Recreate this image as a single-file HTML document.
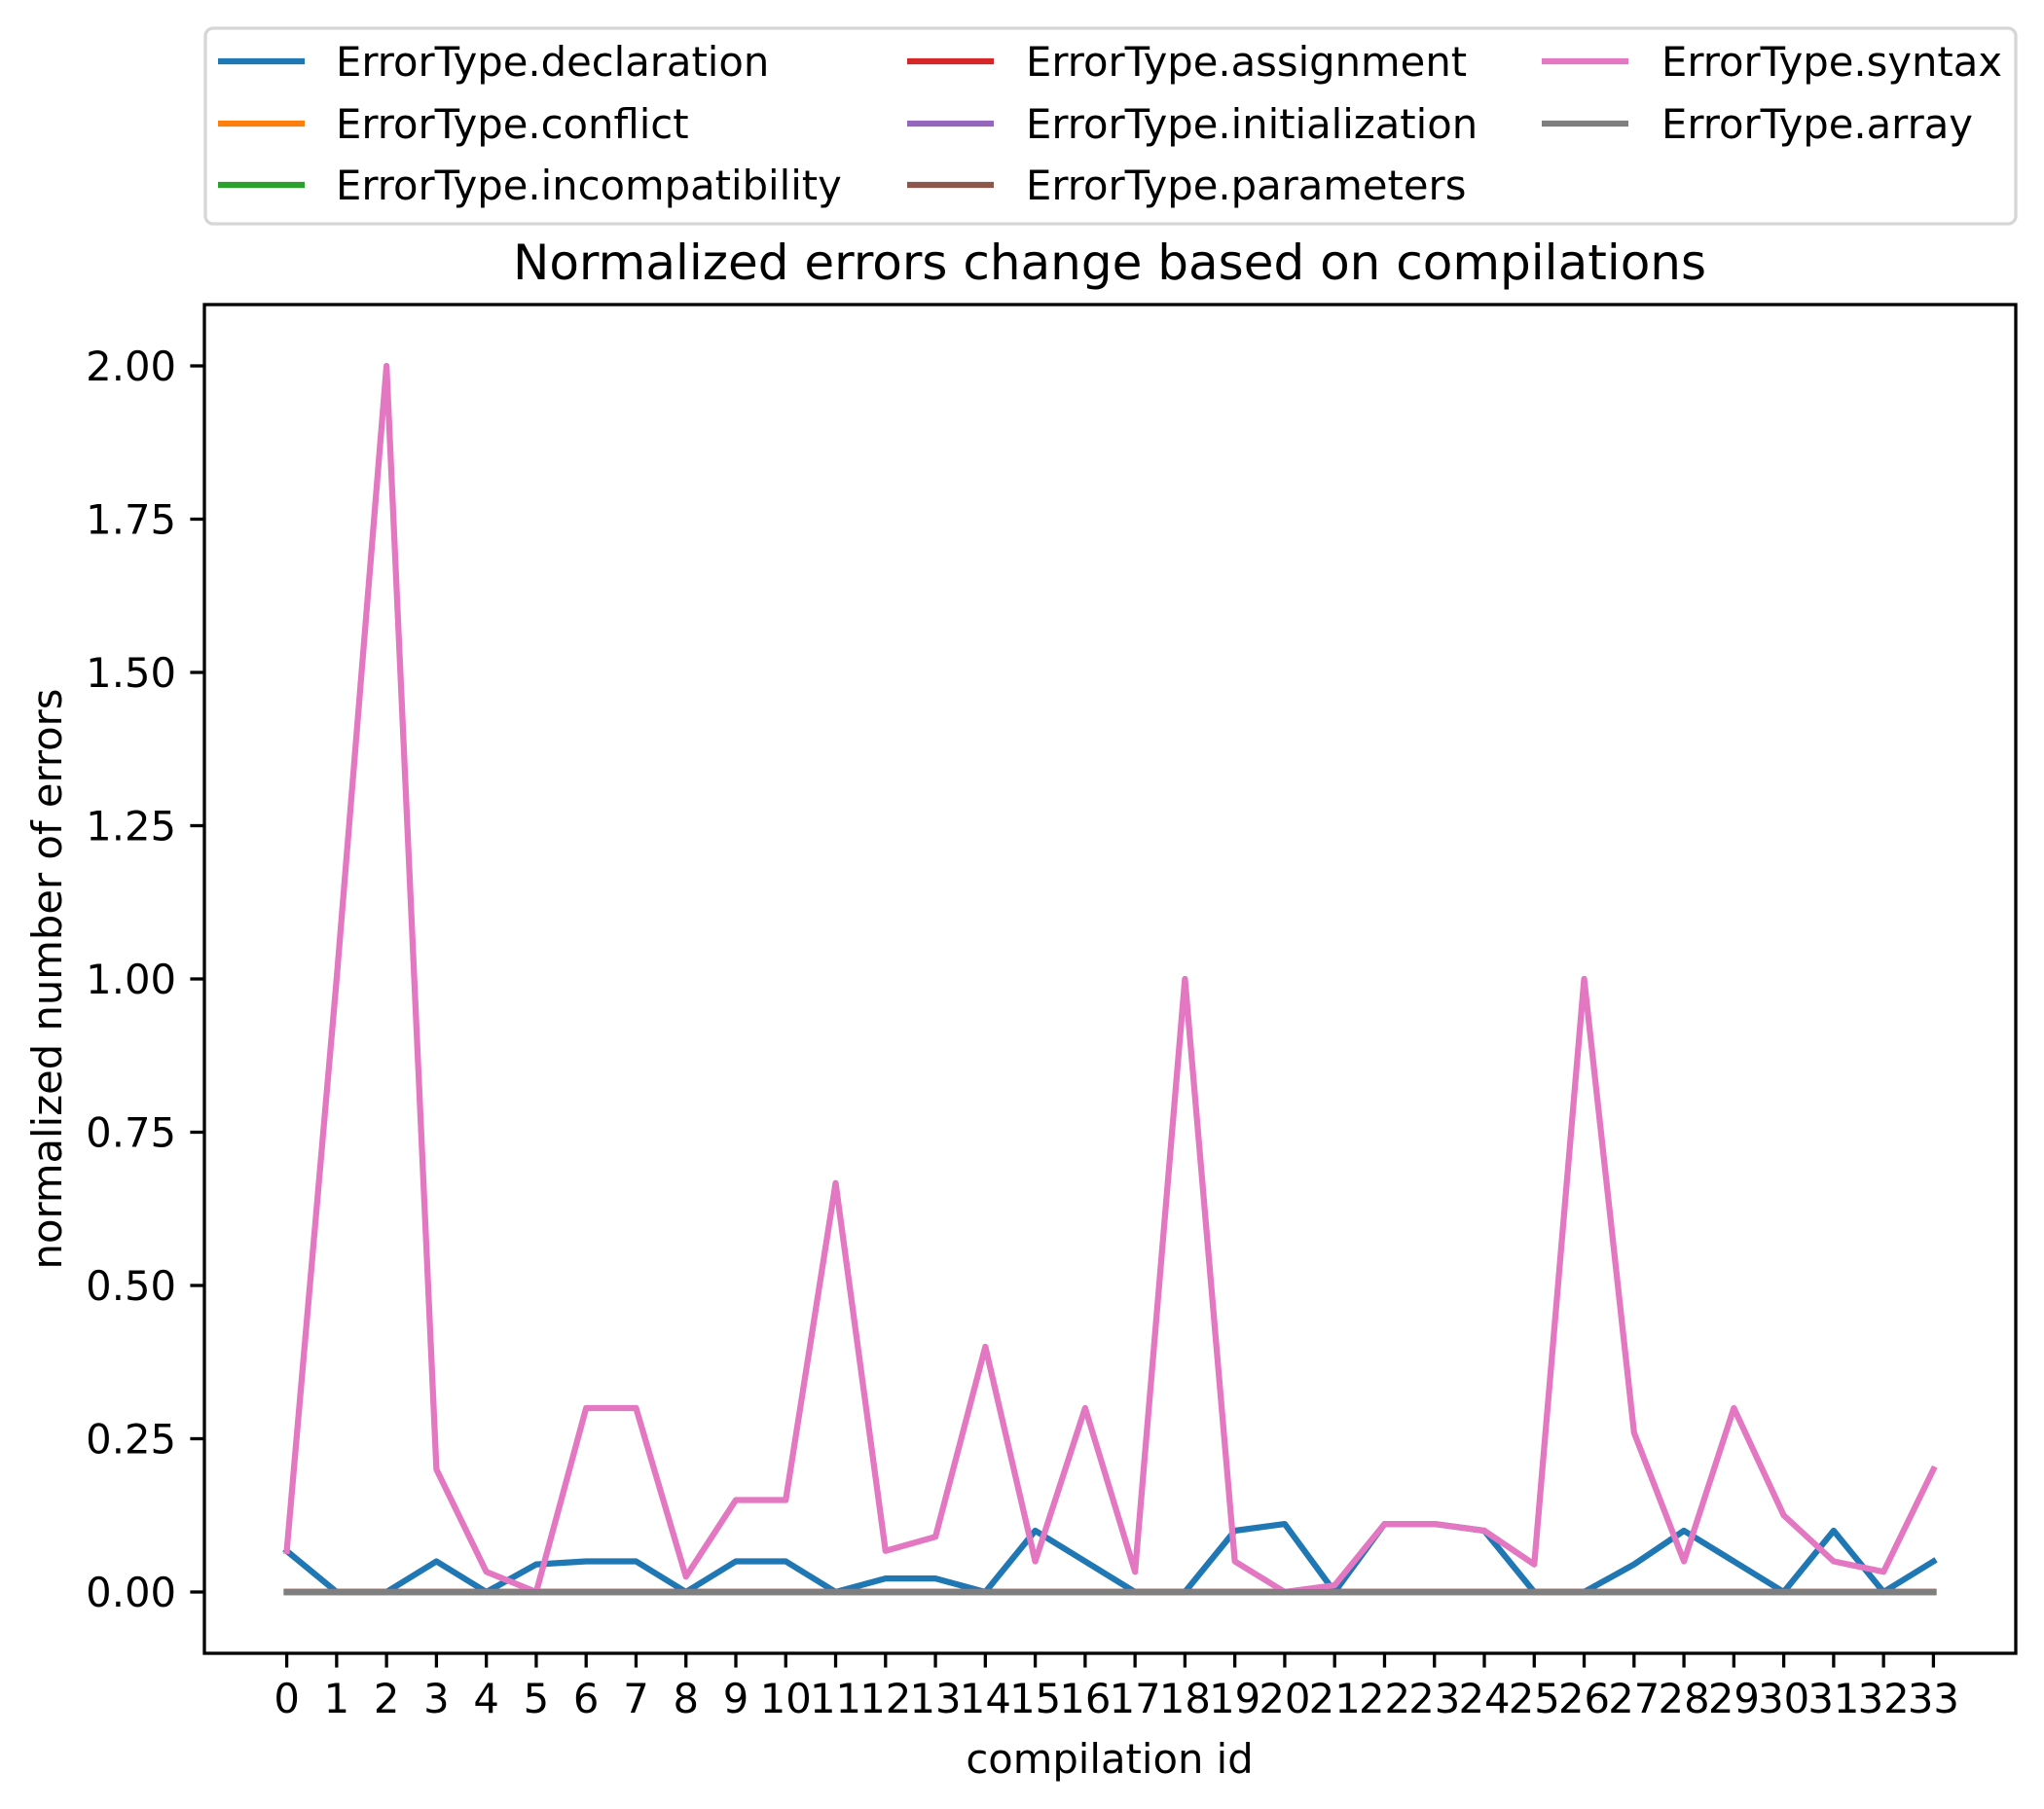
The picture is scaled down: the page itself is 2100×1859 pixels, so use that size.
<!DOCTYPE html>
<html><head><meta charset="utf-8"><style>
html,body{margin:0;padding:0;background:#fff;}
svg{display:block;font-family:"DejaVu Sans","Liberation Sans",sans-serif;}
</style></head><body>
<svg id="chart" width="2100" height="1859" viewBox="0 0 2100 1859" xmlns="http://www.w3.org/2000/svg">
<rect width="2100" height="1859" fill="#fff"/>
<g id="plot"></g>
<g id="axes"></g>
<g id="legend"></g>
<text x="1140" y="287" font-size="50" text-anchor="middle">Normalized errors change based on compilations</text>
<text x="1140" y="1822" font-size="41.7" text-anchor="middle">compilation id</text>
<text transform="translate(63,1006) rotate(-90)" font-size="41.7" text-anchor="middle">normalized number of errors</text>
</svg>
<script>
const categories = [0,1,2,3,4,5,6,7,8,9,10,11,12,13,14,15,16,17,18,19,20,21,22,23,24,25,26,27,28,29,30,31,32,33];
const seriesNames = ["ErrorType.declaration","ErrorType.conflict","ErrorType.incompatibility","ErrorType.assignment","ErrorType.initialization","ErrorType.parameters","ErrorType.syntax","ErrorType.array"];
const declaration = [0.067,0,0,0.05,0,0.045,0.05,0.05,0,0.05,0.05,0,0.022,0.022,0,0.1,0.05,0,0,0.1,0.111,0,0.111,0.111,0.1,0,0,0.045,0.1,0.05,0,0.1,0,0.05];
const conflict = [0,0,0,0,0,0,0,0,0,0,0,0,0,0,0,0,0,0,0,0,0,0,0,0,0,0,0,0,0,0,0,0,0,0];
const incompatibility = [0,0,0,0,0,0,0,0,0,0,0,0,0,0,0,0,0,0,0,0,0,0,0,0,0,0,0,0,0,0,0,0,0,0];
const assignment = [0,0,0,0,0,0,0,0,0,0,0,0,0,0,0,0,0,0,0,0,0,0,0,0,0,0,0,0,0,0,0,0,0,0];
const initialization = [0,0,0,0,0,0,0,0,0,0,0,0,0,0,0,0,0,0,0,0,0,0,0,0,0,0,0,0,0,0,0,0,0,0];
const parameters = [0,0,0,0,0,0,0,0,0,0,0,0,0,0,0,0,0,0,0,0,0,0,0,0,0,0,0,0,0,0,0,0,0,0];
const syntax = [0.067,1.0,2.0,0.2,0.033,0.0,0.3,0.3,0.025,0.15,0.15,0.667,0.067,0.09,0.4,0.05,0.3,0.033,1.0,0.05,0.0,0.011,0.111,0.111,0.1,0.045,1.0,0.26,0.05,0.3,0.125,0.05,0.033,0.2];
const array = [0,0,0,0,0,0,0,0,0,0,0,0,0,0,0,0,0,0,0,0,0,0,0,0,0,0,0,0,0,0,0,0,0,0];
const yTicks = [0,0.25,0.5,0.75,1.0,1.25,1.5,1.75,2.0];
const yTickLabels = ["0.00","0.25","0.50","0.75","1.00","1.25","1.50","1.75","2.00"];

const NS="http://www.w3.org/2000/svg";
const colors=["#1f77b4","#ff7f0e","#2ca02c","#d62728","#9467bd","#8c564b","#e377c2","#7f7f7f"];
const allSeries=[declaration,conflict,incompatibility,assignment,initialization,parameters,syntax,array];
const L=210,R=2071,T=313,B=1699;
const xMin=-1.65,xMax=34.65,yMin=-0.1,yMax=2.1;
const xs=v=>L+(v-xMin)/(xMax-xMin)*(R-L);
const ys=v=>B-(v-yMin)/(yMax-yMin)*(B-T);
function mk(tag,attrs,parent){const e=document.createElementNS(NS,tag);for(const k in attrs)e.setAttribute(k,attrs[k]);parent.appendChild(e);return e;}
const plot=document.getElementById('plot'),axes=document.getElementById('axes'),legend=document.getElementById('legend');
allSeries.forEach((s,i)=>{
  const p=mk('polyline',{points:s.map((v,j)=>xs(categories[j])+','+ys(v)).join(' '),fill:'none',stroke:colors[i],'stroke-width':6.25,'stroke-linejoin':'round','stroke-linecap':'square'},plot);
  
  
});
const frame=mk('rect',{x:L,y:T,width:R-L,height:B-T,fill:'none',stroke:'#000','stroke-width':3.3},axes);


categories.forEach(c=>{
  const x=xs(c);
  const t=mk('line',{x1:x,x2:x,y1:B,y2:B+14.6,stroke:'#000','stroke-width':3.3},axes);
  
  
  const tx=mk('text',{x:x,y:1760,'font-size':41.7,'text-anchor':'middle'},axes);
  tx.textContent=String(c);
  
  
});
yTicks.forEach((v,i)=>{
  const y=ys(v);
  const t=mk('line',{x1:L-14.6,x2:L,y1:y,y2:y,stroke:'#000','stroke-width':3.3},axes);
  
  
  const tx=mk('text',{x:181,y:y+15,'font-size':41.7,'text-anchor':'end'},axes);
  tx.textContent=yTickLabels[i];
  
  
});
const box=mk('rect',{x:211,y:29,width:1860,height:201,rx:8,fill:'#fff',stroke:'#d6d6d6','stroke-width':3.3},legend);


const colX=[[224,345],[932,1054],[1584,1707]],rowY=[63,127,190];
const order=[[0,0],[0,1],[0,2],[1,0],[1,1],[1,2],[2,0],[2,1]];
seriesNames.forEach((n,i)=>{
  const [c,r]=order[i];
  const g=mk('g',{},legend);
  
  
  mk('line',{x1:colX[c][0],x2:colX[c][0]+89,y1:rowY[r],y2:rowY[r],stroke:colors[i],'stroke-width':6.25},g);
  const t=mk('text',{x:colX[c][1],y:rowY[r]+15,'font-size':41.7},g);
  t.textContent=n;
});
</script>
</body></html>
